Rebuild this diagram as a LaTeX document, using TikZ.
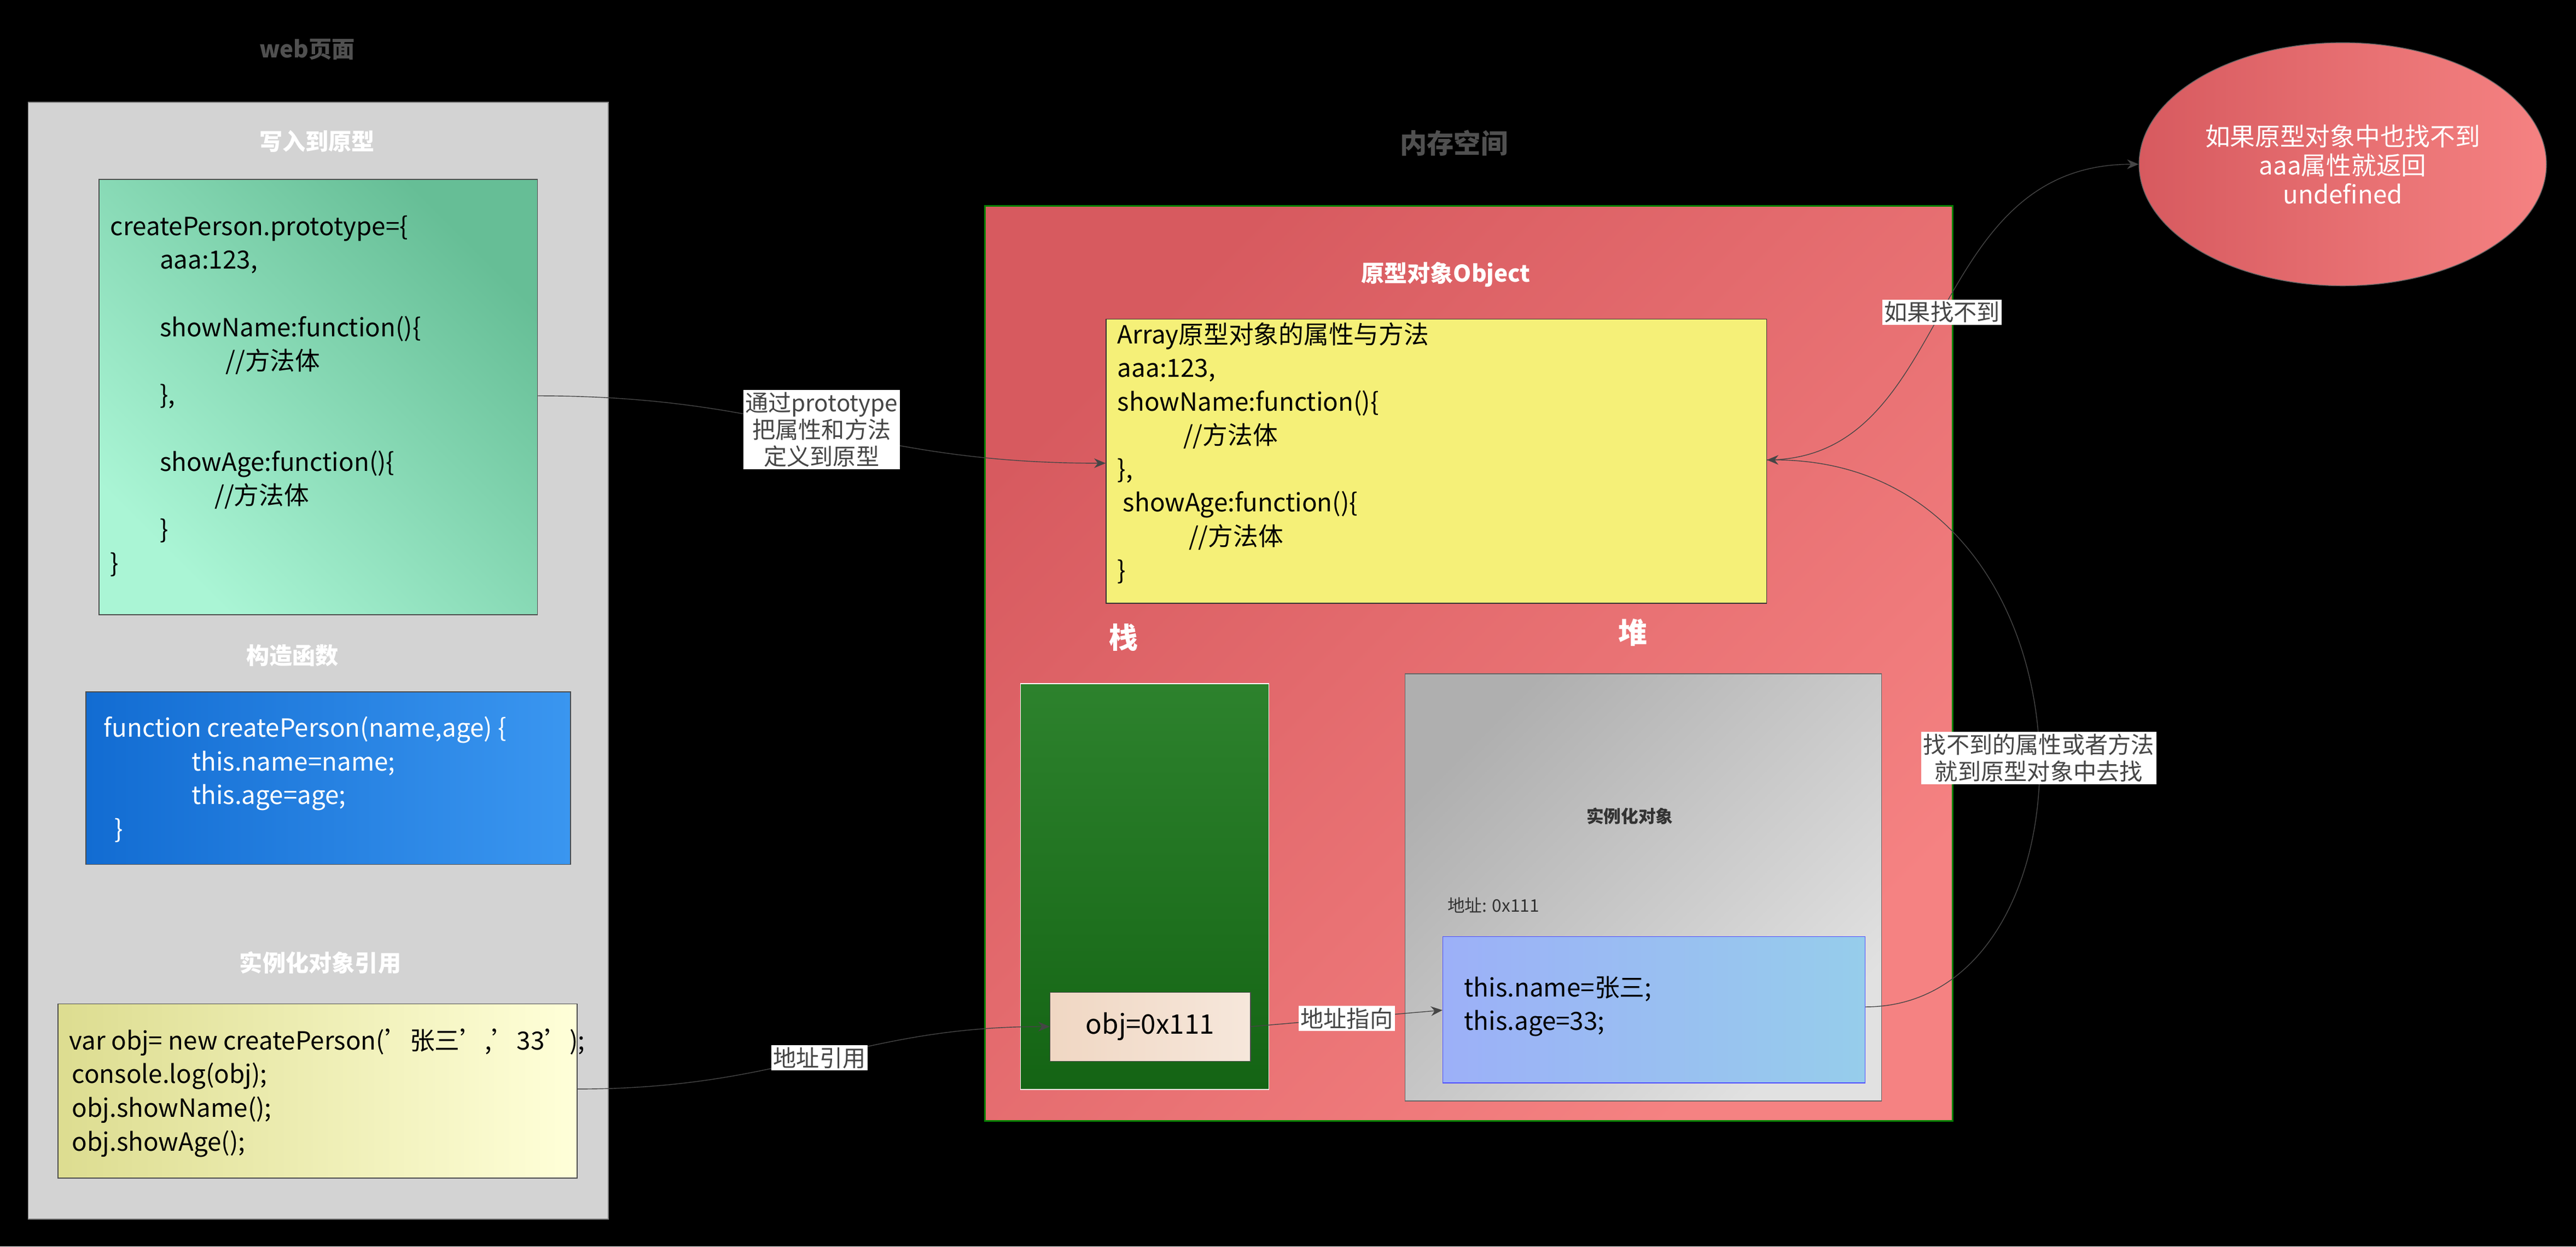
\documentclass[tikz,border=0pt]{standalone}
\usepackage{fontspec}
\setmainfont{Noto Sans CJK SC}
\usetikzlibrary{shapes.geometric,arrows.meta,positioning,calc}
\definecolor{panelgrey}{RGB}{211,211,211}
\definecolor{titlegrey}{RGB}{80,80,80}
\definecolor{mintlight}{RGB}{170,245,213}
\definecolor{mintdark}{RGB}{102,190,150}
\definecolor{codeblue}{RGB}{18,108,210}
\definecolor{codebluel}{RGB}{58,150,240}
\definecolor{memred}{RGB}{215,90,95}
\definecolor{memredl}{RGB}{245,130,130}
\definecolor{protoyellow}{RGB}{245,240,120}
\definecolor{stackgreen}{RGB}{20,100,20}
\definecolor{stackgreenl}{RGB}{45,130,45}
\definecolor{heapgrey}{RGB}{175,175,175}
\definecolor{heapgreyl}{RGB}{225,225,225}
\definecolor{objbeige}{RGB}{240,215,195}
\definecolor{instblue}{RGB}{150,205,235}
\definecolor{linkgrey}{RGB}{70,70,70}

\begin{document}
\begin{tikzpicture}[x=0.03cm,y=-0.03cm]
    % Define node styles
    \tikzstyle{box} = [rectangle, draw, anchor=north west, inner sep=0pt]
    \tikzstyle{code} = [anchor=north west, align=left, inner sep=0pt, font=\fontsize{13}{17.5}\selectfont]
    \tikzstyle{heading} = [font=\fontsize{12}{14}\selectfont\bfseries]
    \tikzstyle{tag} = [fill=white, inner sep=1pt, align=center, font=\fontsize{12}{14}\selectfont]
    \tikzstyle{arrow} = [linkgrey, thin, -{Stealth[length=6pt,width=5pt]}]

    % Background
    \fill[black] (0,0) rectangle (1568,759);
    \useasboundingbox (0,0) rectangle (1568,759);

    % Web page
    \node[heading, titlegrey] (webtitle) at (187,30) {web页面};
    \node[box, draw=gray, fill=panelgrey, minimum width=10.59cm, minimum height=20.4cm] (web) at (17,62) {};

    \node[heading, white] (protohead) at (193,86) {写入到原型};
    \node[box, draw=black!70, left color=mintlight, right color=mintdark, shading angle=135, minimum width=8.01cm, minimum height=7.95cm] (proto) at (60,109) {};
    \node[code] (prototext) at (67,131) {createPerson.prototype=\{\\
        \hspace{0.9cm}aaa:123,\\[17.5pt]
        \hspace{0.9cm}showName:function()\{\\
        \hspace{2.1cm}//方法体\\
        \hspace{0.9cm}\},\\[17.5pt]
        \hspace{0.9cm}showAge:function()\{\\
        \hspace{1.9cm}//方法体\\
        \hspace{0.9cm}\}\\
        \}};

    \node[heading, white] (ctorhead) at (178,399) {构造函数};
    \node[box, draw=black!70, left color=codeblue, right color=codebluel, minimum width=8.85cm, minimum height=3.15cm] (ctor) at (52,421) {};
    \node[code, white] (ctortext) at (63,436) {function createPerson(name,age) \{\\
        \hspace{1.6cm}this.name=name;\\
        \hspace{1.6cm}this.age=age;\\
        \hspace{0.2cm}\}};

    \node[heading, white] (usehead) at (195,586) {实例化对象引用};
    \node[box, draw=black!70, left color=yellow!10!olive!30, right color=yellow!15, minimum width=9.48cm, minimum height=3.18cm] (use) at (35,611) {};
    \node[code] (usetext) at (42,626) {var obj= new createPerson('张三','33');\\
        \hspace{0.05cm}console.log(obj);\\
        \hspace{0.05cm}obj.showName();\\
        \hspace{0.05cm}obj.showAge();};

    % Memory
    \node[heading, titlegrey, font=\fontsize{14}{16}\selectfont\bfseries] (memtitle) at (885,87) {内存空间};
    \node[box, draw=green!50!black, thick, left color=memred, right color=memredl, shading angle=45, minimum width=17.67cm, minimum height=16.71cm] (mem) at (599,125) {};
    \node[heading, white] (objhead) at (880,167) {原型对象Object};
    \node[box, draw=black!80, fill=protoyellow, minimum width=12.06cm, minimum height=5.19cm] (object) at (673,194) {};
    \node[code] (objecttext) at (680,196) {Array原型对象的属性与方法\\
        aaa:123,\\
        showName:function()\{\\
        \hspace{1.2cm}//方法体\\
        \},\\
        \hspace{0.1cm}showAge:function()\{\\
        \hspace{1.3cm}//方法体\\
        \}};

    \node[heading, white, font=\fontsize{15}{17}\selectfont\bfseries] (stackhead) at (684,388) {栈};
    \node[heading, white, font=\fontsize{15}{17}\selectfont\bfseries] (heaphead) at (994,385) {堆};
    \node[box, draw=white!80, top color=stackgreenl, bottom color=stackgreen, minimum width=4.53cm, minimum height=7.41cm] (stack) at (621,416) {};
    \node[box, draw=black!70, left color=objbeige, right color=objbeige!60, minimum width=3.66cm, minimum height=1.26cm] (objref) at (639,604) {};
    \node[font=\fontsize{14}{16}\selectfont] (objreftext) at (700,625) {obj=0x111};

    \node[box, draw=black!60, left color=heapgrey, right color=heapgreyl, shading angle=45, minimum width=8.7cm, minimum height=7.8cm] (heap) at (855,410) {};
    \node[font=\fontsize{9}{11}\selectfont\bfseries, black!80] (insthead) at (992,497) {实例化对象};
    \node[font=\fontsize{9}{11}\selectfont, black!80, anchor=west] (addr) at (877,551) {地址: 0x111};
    \node[box, draw=blue!70, left color=instblue!60!blue!60!white, right color=instblue, minimum width=7.71cm, minimum height=2.67cm] (inst) at (878,570) {};
    \node[code] (insttext) at (891,594) {this.name=张三;\\this.age=33;};

    % Lookup result
    \node[ellipse, draw=black!60, left color=memred, right color=memredl, minimum width=7.26cm, minimum height=4.44cm, text=white, align=center, font=\fontsize{13}{15}\selectfont] (undef) at (1426,100) {如果原型对象中也找不到\\aaa属性就返回\\undefined};

    % Arrows
    \draw[arrow] (proto.east |- 0,241) .. controls (480,241) and (520,282) .. node[tag] {通过prototype\\把属性和方法\\定义到原型} (object.west |- 0,282);
    \draw[arrow] (use.east |- 0,663) .. controls (480,663) and (520,625) .. node[tag] {地址引用} (objref.west |- 0,625);
    \draw[arrow] (objref.east |- 0,625) -- node[tag] {地址指向} (inst.west |- 0,615);
    \draw[arrow] (inst.east |- 0,613) .. controls (1285,613) and (1285,280) .. node[tag, pos=0.47] {找不到的属性或者方法\\就到原型对象中去找} (object.east |- 0,280);
    \draw[arrow] (object.east |- 0,280) .. controls (1190,280) and (1170,100) .. node[tag, pos=0.5] {如果找不到} (undef.west);
\end{tikzpicture}
\end{document}
